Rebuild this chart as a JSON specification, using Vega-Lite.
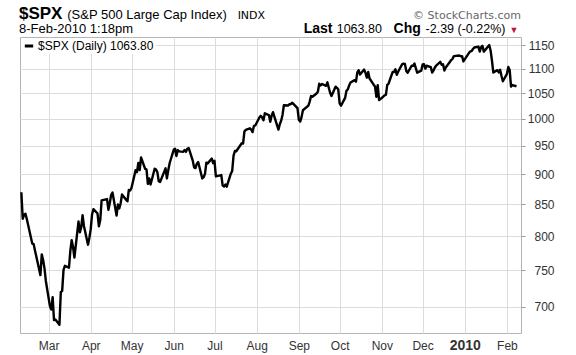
{
  "$schema": "https://vega.github.io/schema/vega-lite/v6.json",
  "width": 501,
  "height": 296,
  "autosize": {"type": "none"},
  "padding": {"left": 20, "top": 37, "right": 55, "bottom": 22},
  "background": "white",
  "config": {
    "font": "Liberation Sans",
    "view": {"stroke": "#b4b4b4", "strokeWidth": 1},
    "axis": {"gridColor": "#dcdcdc", "gridWidth": 1, "title": null}
  },
  "layer": [
    {
      "data": {"values": [
        {"d":"2009-02-09","v":869.89},{"d":"2009-02-10","v":827.16},{"d":"2009-02-11","v":833.74},{"d":"2009-02-12","v":835.19},{"d":"2009-02-13","v":826.84},
        {"d":"2009-02-17","v":789.17},{"d":"2009-02-18","v":788.42},{"d":"2009-02-19","v":778.94},{"d":"2009-02-20","v":770.05},{"d":"2009-02-23","v":743.33},
        {"d":"2009-02-24","v":773.14},{"d":"2009-02-25","v":764.90},{"d":"2009-02-26","v":752.83},{"d":"2009-02-27","v":735.09},
        {"d":"2009-03-02","v":700.82},{"d":"2009-03-03","v":696.33},{"d":"2009-03-04","v":712.87},{"d":"2009-03-05","v":682.55},{"d":"2009-03-06","v":683.38},
        {"d":"2009-03-09","v":676.53},{"d":"2009-03-10","v":719.60},{"d":"2009-03-11","v":721.36},{"d":"2009-03-12","v":750.74},{"d":"2009-03-13","v":756.55},
        {"d":"2009-03-16","v":753.89},{"d":"2009-03-17","v":778.12},{"d":"2009-03-18","v":794.35},{"d":"2009-03-19","v":784.04},{"d":"2009-03-20","v":768.54},
        {"d":"2009-03-23","v":822.92},{"d":"2009-03-24","v":806.12},{"d":"2009-03-25","v":813.88},{"d":"2009-03-26","v":832.86},{"d":"2009-03-27","v":815.94},
        {"d":"2009-03-30","v":787.53},{"d":"2009-03-31","v":797.87},
        {"d":"2009-04-01","v":811.08},{"d":"2009-04-02","v":834.38},{"d":"2009-04-03","v":842.50},{"d":"2009-04-06","v":835.48},{"d":"2009-04-07","v":815.55},
        {"d":"2009-04-08","v":825.16},{"d":"2009-04-09","v":856.56},{"d":"2009-04-13","v":858.73},{"d":"2009-04-14","v":841.50},{"d":"2009-04-15","v":852.06},
        {"d":"2009-04-16","v":865.30},{"d":"2009-04-17","v":869.60},{"d":"2009-04-20","v":832.39},{"d":"2009-04-21","v":850.08},{"d":"2009-04-22","v":843.55},
        {"d":"2009-04-23","v":851.92},{"d":"2009-04-24","v":866.23},{"d":"2009-04-27","v":857.51},{"d":"2009-04-28","v":855.16},{"d":"2009-04-29","v":873.64},
        {"d":"2009-04-30","v":872.81},
        {"d":"2009-05-01","v":877.52},{"d":"2009-05-04","v":907.24},{"d":"2009-05-05","v":903.80},{"d":"2009-05-06","v":919.53},{"d":"2009-05-07","v":907.39},
        {"d":"2009-05-08","v":929.23},{"d":"2009-05-11","v":909.24},{"d":"2009-05-12","v":908.35},{"d":"2009-05-13","v":883.92},{"d":"2009-05-14","v":893.07},
        {"d":"2009-05-15","v":882.88},{"d":"2009-05-18","v":909.71},{"d":"2009-05-19","v":908.13},{"d":"2009-05-20","v":903.47},{"d":"2009-05-21","v":888.33},
        {"d":"2009-05-22","v":887.00},{"d":"2009-05-26","v":910.33},{"d":"2009-05-27","v":893.06},{"d":"2009-05-28","v":906.83},{"d":"2009-05-29","v":919.14},
        {"d":"2009-06-01","v":942.87},{"d":"2009-06-02","v":944.74},{"d":"2009-06-03","v":931.76},{"d":"2009-06-04","v":942.46},{"d":"2009-06-05","v":940.09},
        {"d":"2009-06-08","v":939.14},{"d":"2009-06-09","v":942.43},{"d":"2009-06-10","v":939.15},{"d":"2009-06-11","v":944.89},{"d":"2009-06-12","v":946.21},
        {"d":"2009-06-15","v":923.72},{"d":"2009-06-16","v":911.97},{"d":"2009-06-17","v":910.71},{"d":"2009-06-18","v":918.37},{"d":"2009-06-19","v":921.23},
        {"d":"2009-06-22","v":893.04},{"d":"2009-06-23","v":895.10},{"d":"2009-06-24","v":900.94},{"d":"2009-06-25","v":920.26},{"d":"2009-06-26","v":918.90},
        {"d":"2009-06-29","v":927.23},{"d":"2009-06-30","v":919.32},
        {"d":"2009-07-01","v":923.33},{"d":"2009-07-02","v":896.42},{"d":"2009-07-06","v":898.72},{"d":"2009-07-07","v":881.03},{"d":"2009-07-08","v":879.56},
        {"d":"2009-07-09","v":882.68},{"d":"2009-07-10","v":879.13},{"d":"2009-07-13","v":901.05},{"d":"2009-07-14","v":905.84},{"d":"2009-07-15","v":932.68},
        {"d":"2009-07-16","v":940.74},{"d":"2009-07-17","v":940.38},{"d":"2009-07-20","v":951.13},{"d":"2009-07-21","v":954.58},{"d":"2009-07-22","v":954.07},
        {"d":"2009-07-23","v":976.29},{"d":"2009-07-24","v":979.26},{"d":"2009-07-27","v":982.18},{"d":"2009-07-28","v":979.62},{"d":"2009-07-29","v":975.15},
        {"d":"2009-07-30","v":986.75},{"d":"2009-07-31","v":987.48},
        {"d":"2009-08-03","v":1002.63},{"d":"2009-08-04","v":1005.65},{"d":"2009-08-05","v":1002.72},{"d":"2009-08-06","v":997.08},{"d":"2009-08-07","v":1010.48},
        {"d":"2009-08-10","v":1007.10},{"d":"2009-08-11","v":994.35},{"d":"2009-08-12","v":1005.81},{"d":"2009-08-13","v":1012.73},{"d":"2009-08-14","v":1004.09},
        {"d":"2009-08-17","v":979.73},{"d":"2009-08-18","v":989.67},{"d":"2009-08-19","v":996.46},{"d":"2009-08-20","v":1007.37},{"d":"2009-08-21","v":1026.13},
        {"d":"2009-08-24","v":1025.57},{"d":"2009-08-25","v":1028.00},{"d":"2009-08-26","v":1028.12},{"d":"2009-08-27","v":1030.98},{"d":"2009-08-28","v":1028.93},
        {"d":"2009-08-31","v":1020.62},
        {"d":"2009-09-01","v":998.04},{"d":"2009-09-02","v":994.75},{"d":"2009-09-03","v":1003.24},{"d":"2009-09-04","v":1016.40},{"d":"2009-09-08","v":1025.39},
        {"d":"2009-09-09","v":1033.37},{"d":"2009-09-10","v":1044.14},{"d":"2009-09-11","v":1042.73},{"d":"2009-09-14","v":1049.34},{"d":"2009-09-15","v":1052.63},
        {"d":"2009-09-16","v":1068.76},{"d":"2009-09-17","v":1065.49},{"d":"2009-09-18","v":1068.30},{"d":"2009-09-21","v":1064.66},{"d":"2009-09-22","v":1071.66},
        {"d":"2009-09-23","v":1060.87},{"d":"2009-09-24","v":1050.78},{"d":"2009-09-25","v":1044.38},{"d":"2009-09-28","v":1062.98},{"d":"2009-09-29","v":1060.61},
        {"d":"2009-09-30","v":1057.08},
        {"d":"2009-10-01","v":1029.85},{"d":"2009-10-02","v":1025.21},{"d":"2009-10-05","v":1040.46},{"d":"2009-10-06","v":1054.72},{"d":"2009-10-07","v":1057.58},
        {"d":"2009-10-08","v":1065.48},{"d":"2009-10-09","v":1071.49},{"d":"2009-10-12","v":1076.19},{"d":"2009-10-13","v":1073.19},{"d":"2009-10-14","v":1092.02},
        {"d":"2009-10-15","v":1096.56},{"d":"2009-10-16","v":1087.68},{"d":"2009-10-19","v":1097.91},{"d":"2009-10-20","v":1091.06},{"d":"2009-10-21","v":1081.40},
        {"d":"2009-10-22","v":1092.91},{"d":"2009-10-23","v":1079.60},{"d":"2009-10-26","v":1066.95},{"d":"2009-10-27","v":1063.41},{"d":"2009-10-28","v":1042.63},
        {"d":"2009-10-29","v":1066.11},{"d":"2009-10-30","v":1036.19},
        {"d":"2009-11-02","v":1042.88},{"d":"2009-11-03","v":1045.41},{"d":"2009-11-04","v":1046.50},{"d":"2009-11-05","v":1066.63},{"d":"2009-11-06","v":1069.30},
        {"d":"2009-11-09","v":1093.08},{"d":"2009-11-10","v":1093.01},{"d":"2009-11-11","v":1098.51},{"d":"2009-11-12","v":1087.24},{"d":"2009-11-13","v":1093.48},
        {"d":"2009-11-16","v":1109.30},{"d":"2009-11-17","v":1110.32},{"d":"2009-11-18","v":1109.80},{"d":"2009-11-19","v":1094.90},{"d":"2009-11-20","v":1091.38},
        {"d":"2009-11-23","v":1106.24},{"d":"2009-11-24","v":1105.65},{"d":"2009-11-25","v":1110.63},{"d":"2009-11-27","v":1091.49},{"d":"2009-11-30","v":1095.63},
        {"d":"2009-12-01","v":1108.86},{"d":"2009-12-02","v":1109.24},{"d":"2009-12-03","v":1099.92},{"d":"2009-12-04","v":1105.98},{"d":"2009-12-07","v":1103.25},
        {"d":"2009-12-08","v":1091.94},{"d":"2009-12-09","v":1095.95},{"d":"2009-12-10","v":1102.35},{"d":"2009-12-11","v":1106.41},{"d":"2009-12-14","v":1114.11},
        {"d":"2009-12-15","v":1107.93},{"d":"2009-12-16","v":1109.18},{"d":"2009-12-17","v":1096.08},{"d":"2009-12-18","v":1102.47},{"d":"2009-12-21","v":1114.05},
        {"d":"2009-12-22","v":1118.02},{"d":"2009-12-23","v":1120.59},{"d":"2009-12-24","v":1126.48},{"d":"2009-12-28","v":1127.78},{"d":"2009-12-29","v":1126.20},
        {"d":"2009-12-30","v":1126.42},{"d":"2009-12-31","v":1115.10},
        {"d":"2010-01-04","v":1132.99},{"d":"2010-01-05","v":1136.52},{"d":"2010-01-06","v":1137.14},{"d":"2010-01-07","v":1141.69},{"d":"2010-01-08","v":1144.98},
        {"d":"2010-01-11","v":1146.98},{"d":"2010-01-12","v":1136.22},{"d":"2010-01-13","v":1145.68},{"d":"2010-01-14","v":1148.46},{"d":"2010-01-15","v":1136.03},
        {"d":"2010-01-19","v":1150.23},{"d":"2010-01-20","v":1138.04},{"d":"2010-01-21","v":1116.48},{"d":"2010-01-22","v":1091.76},{"d":"2010-01-25","v":1096.78},
        {"d":"2010-01-26","v":1092.17},{"d":"2010-01-27","v":1097.50},{"d":"2010-01-28","v":1084.53},{"d":"2010-01-29","v":1073.87},
        {"d":"2010-02-01","v":1089.19},{"d":"2010-02-02","v":1103.32},{"d":"2010-02-03","v":1097.28},{"d":"2010-02-04","v":1063.11},{"d":"2010-02-05","v":1066.19},
        {"d":"2010-02-08","v":1063.80}
      ]},
      "mark": {"type": "line", "strokeWidth": 2.4, "strokeJoin": "round", "clip": true},
      "encoding": {
        "x": {
          "field": "d", "type": "temporal",
          "scale": {"type": "utc", "domain": [{"year": 2009, "month": 2, "date": 8, "utc": true}, {"year": 2010, "month": 2, "date": 11, "hours": 8, "utc": true}]},
          "axis": {
            "orient": "bottom",
            "values": [
              {"year": 2009, "month": 3, "date": 1, "utc": true}, {"year": 2009, "month": 4, "date": 1, "utc": true},
              {"year": 2009, "month": 5, "date": 1, "utc": true}, {"year": 2009, "month": 6, "date": 1, "utc": true},
              {"year": 2009, "month": 7, "date": 1, "utc": true}, {"year": 2009, "month": 8, "date": 1, "utc": true},
              {"year": 2009, "month": 9, "date": 1, "utc": true}, {"year": 2009, "month": 10, "date": 1, "utc": true},
              {"year": 2009, "month": 11, "date": 1, "utc": true}, {"year": 2009, "month": 12, "date": 1, "utc": true},
              {"year": 2010, "month": 1, "date": 1, "utc": true}, {"year": 2010, "month": 2, "date": 1, "utc": true}
            ],
            "labelExpr": "utcmonth(datum.value) == 0 ? '2010' : utcFormat(datum.value, '%b')",
            "labelFontWeight": {"condition": {"test": "utcmonth(datum.value) == 0", "value": "bold"}, "value": "normal"},
            "labelFontSize": {"condition": {"test": "utcmonth(datum.value) == 0", "value": 14}, "value": 12},
            "labelBaseline": "alphabetic",
            "labelPadding": 16,
            "labelColor": "#333333",
            "labelFlush": false,
            "labelOverlap": false,
            "grid": true,
            "ticks": false,
            "domain": false
          }
        },
        "y": {
          "field": "v", "type": "quantitative",
          "scale": {"type": "log", "domain": [666, 1168], "nice": false, "zero": false},
          "axis": {
            "orient": "right",
            "values": [700, 750, 800, 850, 900, 950, 1000, 1050, 1100, 1150],
            "grid": true,
            "domain": false,
            "tickSize": 4,
            "tickColor": "#999999",
            "labelAlign": "right",
            "labelBaseline": "middle",
            "labelPadding": 29,
            "labelFontSize": 12,
            "labelColor": "#333333",
            "format": "d"
          }
        },
        "color": {
          "datum": "$SPX (Daily) 1063.80",
          "scale": {"range": ["#000000"]},
          "legend": {
            "orient": "top-left",
            "title": null,
            "offset": 1,
            "padding": 2,
            "fillColor": "white",
            "symbolType": "stroke",
            "symbolStrokeWidth": 3,
            "symbolSize": 70,
            "labelFontSize": 12,
            "labelColor": "#000000",
            "labelOffset": 3
          }
        }
      }
    },
    {
      "data": {"values": [{}]},
      "mark": {"type": "text", "align": "left", "baseline": "alphabetic", "fontSize": 17, "fontWeight": "bold", "color": "#000000"},
      "encoding": {
        "x": {"datum": {"year": 2009, "month": 2, "date": 7, "hours": 6, "utc": true}, "type": "temporal"},
        "y": {"datum": 1209, "type": "quantitative"},
        "text": {"value": "$SPX"}
      }
    },
    {
      "data": {"values": [{}]},
      "mark": {"type": "text", "align": "left", "baseline": "alphabetic", "fontSize": 13, "color": "#000000"},
      "encoding": {
        "x": {"datum": {"year": 2009, "month": 3, "date": 14, "hours": 18, "utc": true}, "type": "temporal"},
        "y": {"datum": 1209, "type": "quantitative"},
        "text": {"value": "(S&P 500 Large Cap Index)"}
      }
    },
    {
      "data": {"values": [{}]},
      "mark": {"type": "text", "align": "left", "baseline": "alphabetic", "fontSize": 11, "font": "DejaVu Sans", "color": "#000000"},
      "encoding": {
        "x": {"datum": {"year": 2009, "month": 7, "date": 18, "utc": true}, "type": "temporal"},
        "y": {"datum": 1209, "type": "quantitative"},
        "text": {"value": "INDX"}
      }
    },
    {
      "data": {"values": [{}]},
      "mark": {"type": "text", "align": "right", "baseline": "alphabetic", "fontSize": 11, "font": "DejaVu Sans", "color": "#666666"},
      "encoding": {
        "x": {"datum": {"year": 2010, "month": 2, "date": 11, "hours": 8, "utc": true}, "type": "temporal"},
        "y": {"datum": 1209, "type": "quantitative"},
        "text": {"value": "© StockCharts.com"}
      }
    },
    {
      "data": {"values": [{}]},
      "mark": {"type": "text", "align": "left", "baseline": "alphabetic", "fontSize": 13, "color": "#000000"},
      "encoding": {
        "x": {"datum": {"year": 2009, "month": 2, "date": 7, "hours": 6, "utc": true}, "type": "temporal"},
        "y": {"datum": 1177, "type": "quantitative"},
        "text": {"value": "8-Feb-2010 1:18pm"}
      }
    },
    {
      "data": {"values": [{}]},
      "mark": {"type": "text", "align": "left", "baseline": "alphabetic", "fontSize": 14, "fontWeight": "bold", "color": "#000000"},
      "encoding": {
        "x": {"datum": {"year": 2009, "month": 9, "date": 4, "hours": 14, "utc": true}, "type": "temporal"},
        "y": {"datum": 1177, "type": "quantitative"},
        "text": {"value": "Last"}
      }
    },
    {
      "data": {"values": [{}]},
      "mark": {"type": "text", "align": "left", "baseline": "alphabetic", "fontSize": 12.5, "color": "#000000"},
      "encoding": {
        "x": {"datum": {"year": 2009, "month": 9, "date": 28, "hours": 20, "utc": true}, "type": "temporal"},
        "y": {"datum": 1177, "type": "quantitative"},
        "text": {"value": "1063.80"}
      }
    },
    {
      "data": {"values": [{}]},
      "mark": {"type": "text", "align": "left", "baseline": "alphabetic", "fontSize": 14, "fontWeight": "bold", "color": "#000000"},
      "encoding": {
        "x": {"datum": {"year": 2009, "month": 11, "date": 9, "hours": 16, "utc": true}, "type": "temporal"},
        "y": {"datum": 1177, "type": "quantitative"},
        "text": {"value": "Chg"}
      }
    },
    {
      "data": {"values": [{}]},
      "mark": {"type": "text", "align": "left", "baseline": "alphabetic", "fontSize": 12.5, "color": "#000000"},
      "encoding": {
        "x": {"datum": {"year": 2009, "month": 12, "date": 3, "hours": 4, "utc": true}, "type": "temporal"},
        "y": {"datum": 1177, "type": "quantitative"},
        "text": {"value": "-2.39 (-0.22%)"}
      }
    },
    {
      "data": {"values": [{}]},
      "mark": {"type": "text", "align": "center", "baseline": "alphabetic", "fontSize": 9, "color": "#c0143c"},
      "encoding": {
        "x": {"datum": {"year": 2010, "month": 2, "date": 6, "hours": 5, "utc": true}, "type": "temporal"},
        "y": {"datum": 1178, "type": "quantitative"},
        "text": {"value": "▼"}
      }
    }
  ]
}
